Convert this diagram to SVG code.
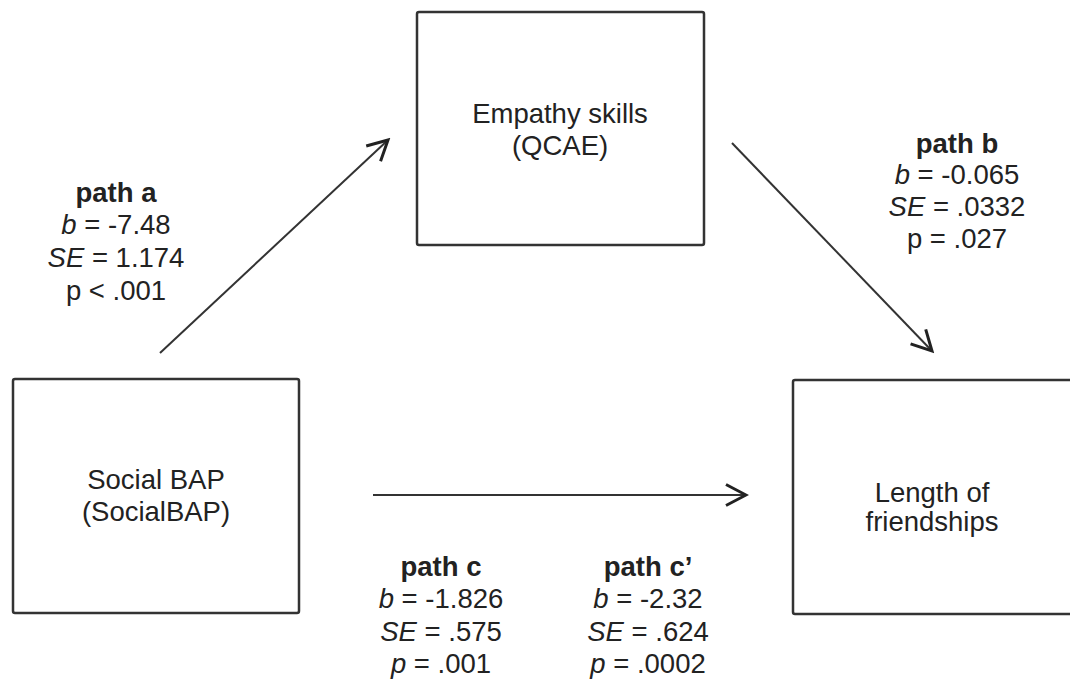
<svg xmlns="http://www.w3.org/2000/svg" width="1070" height="682" viewBox="0 0 1070 682">
<style>
.box{fill:#fff;stroke:#333;stroke-width:2.5}
.t{font-family:"Liberation Sans",Arial,sans-serif;font-size:27.5px;fill:#222;text-anchor:middle}
.b{font-weight:bold}
.i{font-style:italic}
.edge{stroke:#333;stroke-width:2;fill:none}
</style>
<defs>
<marker id="arr" markerUnits="userSpaceOnUse" viewBox="-23 -14 26 28" refX="0" refY="0" markerWidth="26" markerHeight="28" orient="auto">
<path d="M-20,-10.5 L0,0 L-20,10.5" fill="none" stroke="#222" stroke-width="3"/>
</marker>
</defs>
<rect width="1070" height="682" fill="#fff"/>
<g id="node-empathy">
<rect class="box" x="417" y="12" width="287" height="233" rx="2"/>
<text class="t" x="560" y="123">Empathy skills</text>
<text class="t" x="560" y="155">(QCAE)</text>
</g>
<g id="node-socialbap">
<rect class="box" x="13" y="379" width="286" height="234" rx="2"/>
<text class="t" x="156" y="489">Social BAP</text>
<text class="t" x="156" y="521">(SocialBAP)</text>
</g>
<g id="node-length">
<rect class="box" x="793" y="380" width="292" height="234" rx="2"/>
<text class="t" x="932" y="502">Length of</text>
<text class="t" x="932" y="531">friendships</text>
</g>
<g id="connectors">
<line class="edge" x1="160" y1="353" x2="388" y2="140" marker-end="url(#arr)"/>
<line class="edge" x1="732" y1="143" x2="932" y2="351" marker-end="url(#arr)"/>
<line class="edge" x1="373" y1="495" x2="746" y2="495" marker-end="url(#arr)"/>
</g>
<g id="label-a">
<text class="t b" x="116" y="202">path a</text>
<text class="t" x="116" y="234"><tspan class="i">b</tspan> = -7.48</text>
<text class="t" x="116" y="267"><tspan class="i">SE</tspan> = 1.174</text>
<text class="t" x="116" y="300">p &lt; .001</text>
</g>
<g id="label-b">
<text class="t b" x="957" y="153">path b</text>
<text class="t" x="957" y="184"><tspan class="i">b</tspan> = -0.065</text>
<text class="t" x="957" y="216"><tspan class="i">SE</tspan> = .0332</text>
<text class="t" x="957" y="248">p = .027</text>
</g>
<g id="label-c">
<text class="t b" x="441" y="576">path c</text>
<text class="t" x="441" y="608"><tspan class="i">b</tspan> = -1.826</text>
<text class="t" x="441" y="641"><tspan class="i">SE</tspan> = .575</text>
<text class="t" x="441" y="673"><tspan class="i">p</tspan> = .001</text>
</g>
<g id="label-cprime">
<text class="t b" x="648" y="576">path c’</text>
<text class="t" x="648" y="608"><tspan class="i">b</tspan> = -2.32</text>
<text class="t" x="648" y="641"><tspan class="i">SE</tspan> = .624</text>
<text class="t" x="648" y="673"><tspan class="i">p</tspan> = .0002</text>
</g>
</svg>
